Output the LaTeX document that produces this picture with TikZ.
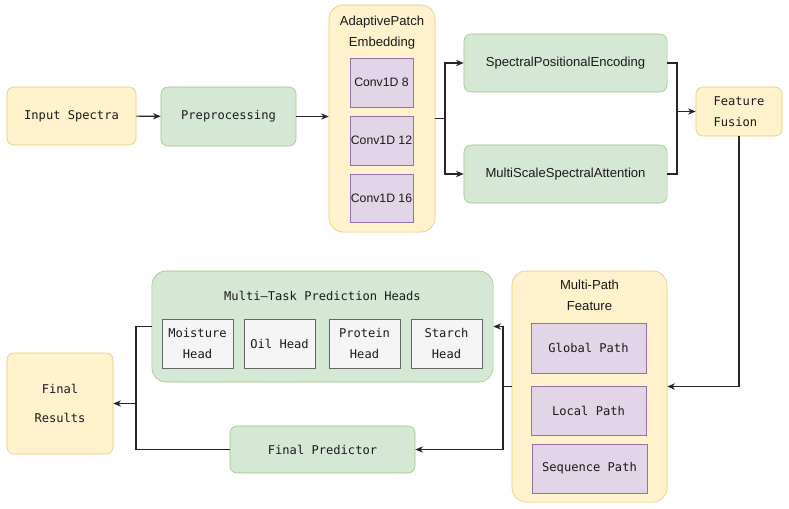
\documentclass[tikz,border=0pt]{standalone}
\usepackage{fontspec}
\setmainfont{Liberation Sans}
\setmonofont{DejaVu Sans Mono}
\usepackage{xcolor}
\usetikzlibrary{calc, arrows.meta}
\definecolor{yelfill}{HTML}{FFF2CC}
\definecolor{yeldraw}{HTML}{E2C77A}
\definecolor{grnfill}{HTML}{D5E8D4}
\definecolor{grndraw}{HTML}{9CC487}
\definecolor{purfill}{HTML}{E1D5E7}
\definecolor{purdraw}{HTML}{9673A6}
\definecolor{gryfill}{HTML}{F5F5F5}
\definecolor{grydraw}{HTML}{666666}
\definecolor{txt}{HTML}{1A1A1A}
\tikzset{every node/.append style={text=txt}}

\begin{document}
\begin{tikzpicture}[>={Stealth[length=5.5pt, width=4.5pt]}, x=0.025cm, y=-0.025cm,
    mono/.style={font=\fontsize{8.6}{14.9}\selectfont\ttfamily},
    sans/.style={font=\fontsize{9.3}{14.9}\selectfont},
    ybox/.style={draw=yeldraw, fill=yelfill, rounded corners=5pt, align=center, inner sep=2pt},
    gbox/.style={draw=grndraw, fill=grnfill, rounded corners=5pt, align=center, inner sep=2pt},
    pbox/.style={draw=purdraw, fill=purfill, align=center, inner sep=2pt},
    cbox/.style={pbox, font=\fontsize{8.7}{14.9}\selectfont, inner sep=0pt, minimum width=1.575cm, minimum height=1.225cm},
    hbox/.style={draw=grydraw, fill=gryfill, align=center, inner sep=2pt, mono, minimum width=1.775cm, minimum height=1.225cm},
    group/.style={rounded corners=10pt, inner sep=0pt},
    conn/.style={line width=0.75pt, black!85}]
    \useasboundingbox (0,0) rectangle (789,508);
    % top row
    \node[ybox, mono, minimum width=3.225cm, minimum height=1.45cm] (inp) at (71.5,116) {Input Spectra};
    \node[gbox, mono, minimum width=3.375cm, minimum height=1.475cm] (pre) at (228.5,116.5) {Preprocessing};
    % patch embedding
    \node[ybox, group, minimum width=2.65cm, minimum height=5.675cm] (emb) at (382,118.5) {};
    \node[sans, align=center] (embt) at (382,33) {AdaptivePatch\\Embedding};
    \node[cbox] (cv1) at (381.5,82.5) {Conv1D 8};
    \node[cbox] (cv2) at (381.5,140.5) {Conv1D 12};
    \node[cbox, minimum height=1.2cm] (cv3) at (381.5,198) {Conv1D 16};
    % encoding and attention
    \node[gbox, sans, minimum width=5.075cm, minimum height=1.45cm] (spe) at (565.5,63) {SpectralPositionalEncoding};
    \node[gbox, sans, minimum width=5.075cm, minimum height=1.45cm] (msa) at (565.5,174) {MultiScaleSpectralAttention};
    \node[ybox, mono, align=left, minimum width=2.15cm, minimum height=1.225cm] (fus) at (739,111.5) {Feature\\Fusion};
    % multi-path feature
    \node[ybox, group, minimum width=3.875cm, minimum height=5.775cm] (mpf) at (589.5,386.5) {};
    \node[sans, align=center] (mpft) at (589.5,295.5) {Multi-Path\\Feature};
    \node[pbox, mono, minimum width=2.875cm, minimum height=1.25cm] (glb) at (588.5,348) {Global Path};
    \node[pbox, mono, minimum width=2.875cm, minimum height=1.225cm] (loc) at (588.5,410.5) {Local Path};
    \node[pbox, mono, minimum width=2.875cm, minimum height=1.225cm] (seq) at (589.5,468.5) {Sequence Path};
    % prediction heads
    \node[gbox, group, minimum width=8.525cm, minimum height=2.775cm] (mth) at (322.5,326.5) {};
    \node[mono] (mtht) at (322.5,296) {Multi–Task Prediction Heads};
    \node[hbox] (hmo) at (197.5,343.5) {Moisture\\Head};
    \node[hbox] (hoi) at (279.5,343.5) {Oil Head};
    \node[hbox] (hpr) at (364.5,343.5) {Protein\\Head};
    \node[hbox] (hst) at (446.5,343.5) {Starch\\Head};
    \node[gbox, mono, minimum width=4.625cm, minimum height=1.175cm] (fpr) at (322.5,449.5) {Final Predictor};
    \node[ybox, mono, font=\fontsize{8.6}{20.5}\selectfont\ttfamily, minimum width=2.65cm, minimum height=2.525cm] (res) at (60,403.5) {Final\\Results};
    % junctions
    \coordinate (split) at (445,118.5);
    \coordinate (merge) at (677,111.5);
    \coordinate (fork) at (503,386.5);
    \coordinate (join) at (136,403.5);
    % connectors
    \draw[->, conn] (inp) -- (pre);
    \draw[->, conn] (pre) -- (pre -| emb.west);
    \draw[conn] (emb.east |- split) -- (split);
    \draw[->, conn] (split) |- (spe);
    \draw[->, conn] (split) |- (msa);
    \draw[conn] (spe) -| (merge);
    \draw[conn] (msa) -| (merge);
    \draw[->, conn] (merge) -- (fus);
    \draw[->, conn] (fus) |- (mpf);
    \draw[conn] (mpf) -- (fork);
    \draw[->, conn] (fork) |- (mth.east);
    \draw[->, conn] (fork) |- (fpr);
    \draw[conn] (mth.west) -| (join);
    \draw[conn] (fpr) -| (join);
    \draw[->, conn] (join) -- (res);
\end{tikzpicture}
\end{document}
